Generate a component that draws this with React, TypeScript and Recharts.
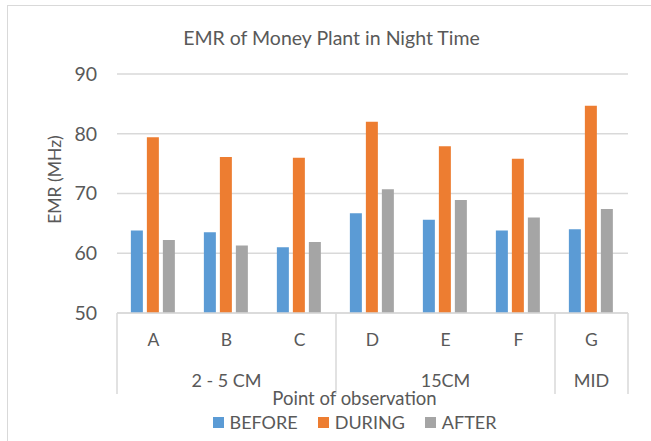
import React from 'react';
import {
  BarChart,
  Bar,
  XAxis,
  YAxis,
  CartesianGrid,
  Legend,
} from 'recharts';

// EMR of Money Plant in Night Time - clustered bars with two-level category axis

const categories = ['A', 'B', 'C', 'D', 'E', 'F', 'G'];
const groups = ['2 - 5 CM', '2 - 5 CM', '2 - 5 CM', '15CM', '15CM', '15CM', 'MID'];
const before = [63.8, 63.5, 61.0, 66.7, 65.6, 63.8, 64.0];
const during = [79.4, 76.1, 76.0, 82.0, 77.9, 75.8, 84.7];
const after = [62.2, 61.3, 61.9, 70.7, 68.9, 66.0, 67.4];
const yTicks = [50, 60, 70, 80, 90];

const seriesNames = ['BEFORE', 'DURING', 'AFTER'];
const seriesColors = ['#5b9bd5', '#ed7d31', '#a5a5a5'];

const data = categories.map((name, i) => ({
  name,
  group: groups[i],
  BEFORE: before[i],
  DURING: during[i],
  AFTER: after[i],
}));

const FONT = 'Lato, "Open Sans", sans-serif';
const TEXT = '#595959';
const GRID = '#d9d9d9';

function CategoryTick(props: any) {
  const { x, y, payload } = props;
  const i = payload.index;
  const half = payload.offset || 36.5;
  const band = half * 2;
  const group = groups[i];
  const isFirst = i === 0 || groups[i - 1] !== group;
  const isLast = i === categories.length - 1;
  let count = 0;
  if (isFirst) {
    for (let k = i; k < groups.length && groups[k] === group; k++) count++;
  }
  const left = x - half;
  return (
    <g>
      <text
        x={x}
        y={y + 33}
        textAnchor="middle"
        fontSize={17.5}
        fontFamily={FONT}
        fill={TEXT}
      >
        {payload.value}
      </text>
      {isFirst && (
        <>
          <line x1={left} x2={left} y1={y} y2={y + 81} stroke={GRID} strokeWidth={1.5} />
          <text
            x={left + (count * band) / 2}
            y={y + 74}
            textAnchor="middle"
            fontSize={18}
            fontFamily={FONT}
            fill={TEXT}
          >
            {group}
          </text>
        </>
      )}
      {isLast && (
        <line x1={x + half} x2={x + half} y1={y} y2={y + 81} stroke={GRID} strokeWidth={1.5} />
      )}
    </g>
  );
}

function LegendContent() {
  return (
    <div
      style={{
        height: 30,
        display: 'flex',
        justifyContent: 'center',
        alignItems: 'center',
        fontFamily: FONT,
        fontSize: 18,
        color: TEXT,
      }}
    >
      {seriesNames.map((s, i) => (
        <span key={s} style={{ display: 'flex', alignItems: 'center', marginRight: i < 2 ? 20 : 0 }}>
          <span style={{ width: 11, height: 11, background: seriesColors[i], marginRight: 6 }} />
          {s}
        </span>
      ))}
    </div>
  );
}

export default function App() {
  return (
    <div style={{ position: 'absolute', left: 0, top: 0, width: 651, height: 441, overflow: 'hidden', background: '#fff' }}>
      <div
        style={{
          position: 'absolute',
          left: 7,
          top: 5,
          width: 700,
          height: 460,
          borderLeft: `1px solid ${GRID}`,
          borderTop: `1px solid ${GRID}`,
        }}
      />
      <div
        style={{
          position: 'absolute',
          left: 0,
          width: 663,
          top: 28,
          textAlign: 'center',
          fontFamily: FONT,
          fontSize: 19.5,
          lineHeight: '20px',
          color: TEXT,
        }}
      >
        EMR of Money Plant in Night Time
      </div>
      <div style={{ position: 'absolute', left: 0, top: 0 }}>
        <BarChart
          width={651}
          height={441}
          data={data}
          margin={{ top: 74, right: 23, left: 0, bottom: 0 }}
          barGap={4}
          barCategoryGap="19%"
        >
          <CartesianGrid vertical={false} stroke={GRID} strokeWidth={1.5} />
          <XAxis
            dataKey="name"
            height={98}
            tickLine={false}
            tickSize={0}
            tickMargin={0}
            axisLine={{ stroke: GRID, strokeWidth: 1.5 }}
            interval={0}
            tick={<CategoryTick />}
            label={{
              value: 'Point of observation',
              position: 'insideBottom',
              dx: -18,
              dy: -1,
              style: { fontFamily: FONT, fontSize: 18.5, fill: TEXT },
            }}
          />
          <YAxis
            width={117}
            domain={[50, 90]}
            ticks={yTicks}
            tickLine={false}
            axisLine={false}
            tickSize={0}
            tickMargin={20}
            tick={{ fontSize: 19.5, fill: TEXT, fontFamily: FONT }}
            label={{
              value: 'EMR (MHz)',
              angle: -90,
              position: 'insideLeft',
              dx: 50,
              dy: -14,
              style: { textAnchor: 'middle', fontFamily: FONT, fontSize: 17.5, fill: TEXT },
            }}
          />
          <Legend
            verticalAlign="bottom"
            content={<LegendContent />}
            wrapperStyle={{ left: 0, width: 709, top: 407 }}
          />
          {seriesNames.map((s, i) => (
            <Bar key={s} dataKey={s} fill={seriesColors[i]} isAnimationActive={false} />
          ))}
        </BarChart>
      </div>
    </div>
  );
}
